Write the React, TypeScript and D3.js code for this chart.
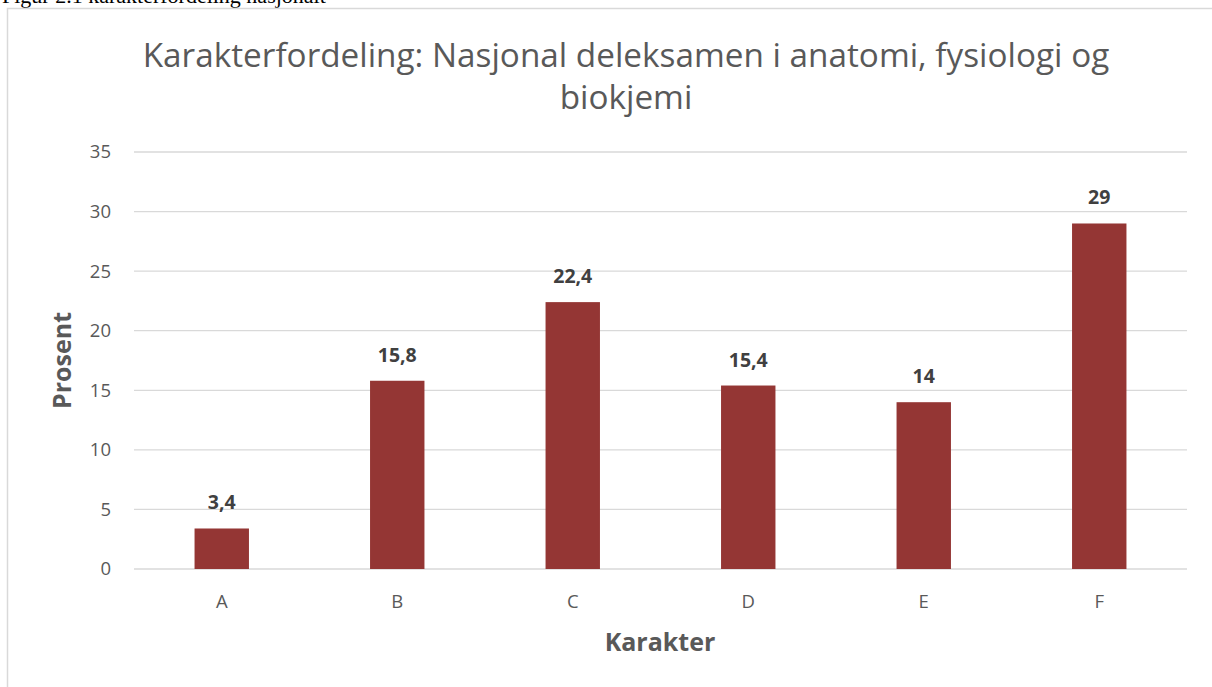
import React from 'react';
import * as d3 from 'd3';

const grades = ['A', 'B', 'C', 'D', 'E', 'F'];
const percents = [3.4, 15.8, 22.4, 15.4, 14, 29];
const yTicks = [0, 5, 10, 15, 20, 25, 30, 35];

const W = 1212;
const H = 687;
const margin = { left: 134, right: 25, top: 152, bottom: 118 };
const font = 'Open Sans, sans-serif';

const App: React.FC = () => {
  const x = d3.scaleBand<string>()
    .domain(grades)
    .range([margin.left, W - margin.right])
    .paddingInner(0.69)
    .paddingOuter(0.345);

  const y = d3.scaleLinear()
    .domain([0, 35])
    .range([H - margin.bottom, margin.top]);

  const fmt = (v: number) => String(v).replace('.', ',');

  return (
    <svg width={W} height={H} style={{ position: 'fixed', left: 0, top: 0, background: '#fff' }}>
      <text x={2} y={3} fontFamily="Times New Roman, Liberation Serif, serif" fontSize={22} fill="#000">
        Figur 2.1 karakterfordeling nasjonalt
      </text>
      <rect x={7.5} y={8.5} width={W} height={H} fill="none" stroke="#d9d9d9" strokeWidth={1.5} />

      <text textAnchor="middle" fontFamily={font} fontSize={33.3} fill="#595959">
        <tspan x={626} y={67}>Karakterfordeling: Nasjonal deleksamen i anatomi, fysiologi og</tspan>
        <tspan x={626} y={109}>biokjemi</tspan>
      </text>

      {yTicks.map(t => (
        <g key={t}>
          <line x1={margin.left} x2={W - margin.right} y1={y(t)} y2={y(t)} stroke="#d9d9d9" strokeWidth={1.3} />
          <text x={111} y={y(t)} dy="0.35em" textAnchor="end" fontFamily={font} fontSize={18.5} fill="#595959">{t}</text>
        </g>
      ))}

      {grades.map((g, i) => (
        <g key={g}>
          <rect x={x(g)} y={y(percents[i])} width={x.bandwidth()} height={y(0) - y(percents[i])} fill="#943634" />
          <text x={(x(g) ?? 0) + x.bandwidth() / 2} y={y(percents[i]) - 19} textAnchor="middle"
            fontFamily={font} fontSize={19.5} fontWeight="bold" fill="#404040">{fmt(percents[i])}</text>
          <text x={(x(g) ?? 0) + x.bandwidth() / 2} y={608} textAnchor="middle"
            fontFamily={font} fontSize={18.5} fill="#595959">{g}</text>
        </g>
      ))}

      <text x={660} y={651} textAnchor="middle" fontFamily={font} fontSize={25} fontWeight="bold" fill="#595959">Karakter</text>
      <text transform={`translate(71, ${(y(0) + y(35)) / 2}) rotate(-90)`} textAnchor="middle"
        fontFamily={font} fontSize={25} fontWeight="bold" fill="#595959">Prosent</text>
    </svg>
  );
};

export default App;
